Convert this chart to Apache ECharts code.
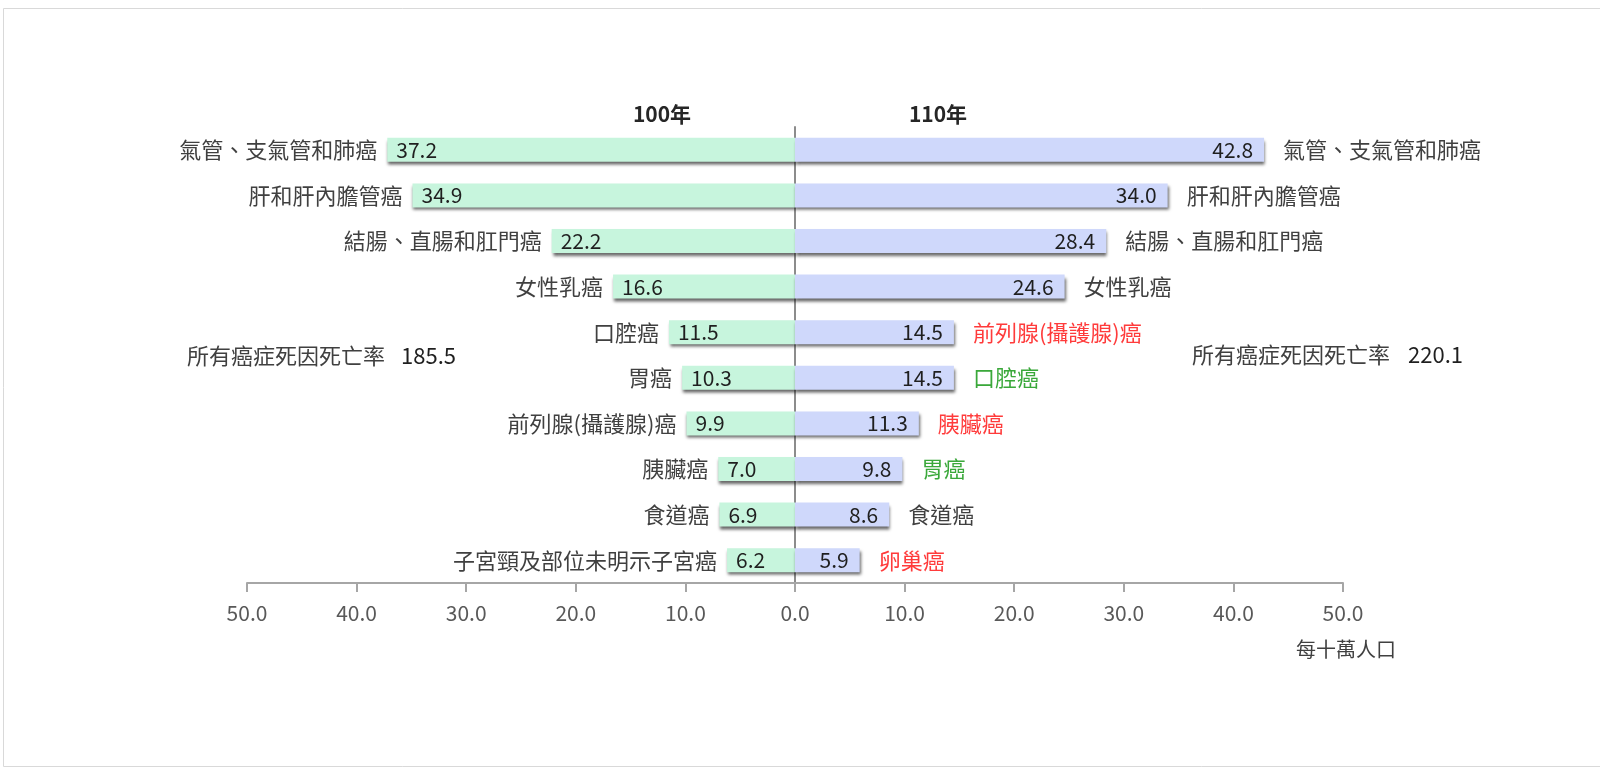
<!DOCTYPE html>
<html>
<head>
<meta charset="utf-8">
<script src="https://cdn.jsdelivr.net/npm/echarts@6/dist/echarts.min.js"></script>
<style>
html,body{margin:0;padding:0;background:#fff;}
#chart{width:1600px;height:770px;}
</style>
</head>
<body>
<div id="chart"></div>
<script>
// ---- data ----
var leftYear = '100年';
var rightYear = '110年';
var leftNames = ['氣管、支氣管和肺癌','肝和肝內膽管癌','結腸、直腸和肛門癌','女性乳癌','口腔癌','胃癌','前列腺(攝護腺)癌','胰臟癌','食道癌','子宮頸及部位未明示子宮癌'];
var leftValues = [37.2, 34.9, 22.2, 16.6, 11.5, 10.3, 9.9, 7.0, 6.9, 6.2];
var rightNames = ['氣管、支氣管和肺癌','肝和肝內膽管癌','結腸、直腸和肛門癌','女性乳癌','前列腺(攝護腺)癌','口腔癌','胰臟癌','胃癌','食道癌','卵巢癌'];
var rightValues = [42.8, 34.0, 28.4, 24.6, 14.5, 14.5, 11.3, 9.8, 8.6, 5.9];
var rightNameColors = ['#404040','#404040','#404040','#404040','#ff3b3b','#3aa83a','#ff3b3b','#3aa83a','#404040','#ff3b3b'];
var leftTotalLabel = '所有癌症死因死亡率';
var leftTotal = '185.5';
var rightTotalLabel = '所有癌症死因死亡率';
var rightTotal = '220.1';
var tickValues = [-50, -40, -30, -20, -10, 0, 10, 20, 30, 40, 50];
var unitLabel = '每十萬人口';
var ranks = ['1','2','3','4','5','6','7','8','9','10'];

var FONT = '"Noto Sans CJK TC", "Noto Sans", sans-serif';
var chart = echarts.init(document.getElementById('chart'), null, {renderer: 'canvas'});

var shadow = {shadowColor: 'rgba(0,0,0,0.6)', shadowBlur: 3, shadowOffsetX: 1, shadowOffsetY: 3};

var option = {
  backgroundColor: '#ffffff',
  animation: false,
  textStyle: {fontFamily: FONT},
  grid: {left: 247, right: 257, top: 127, height: 456, containLabel: false},
  xAxis: {
    type: 'value', min: -50, max: 50, interval: 10,
    axisLine: {show: true, lineStyle: {color: '#a6a6a6', width: 2}},
    axisTick: {show: true, length: 9, lineStyle: {color: '#a6a6a6', width: 2}},
    splitLine: {show: false},
    axisLabel: {
      margin: 20, fontSize: 21, color: '#595959', fontFamily: FONT,
      formatter: function (v) { return Math.abs(v).toFixed(1); }
    }
  },
  yAxis: {
    type: 'category', inverse: true, data: ranks,
    axisLine: {show: true, onZero: true, lineStyle: {color: '#8c8c8c', width: 2}},
    axisTick: {show: false},
    axisLabel: {show: false}
  },
  series: [
    {
      name: 'leftNames', type: 'bar', barWidth: 24, barGap: '-100%', silent: true,
      itemStyle: {color: 'rgba(0,0,0,0)'},
      data: leftValues.map(function (v) { return -v; }),
      label: {show: true, position: 'left', distance: 10, fontSize: 22, color: '#404040', fontFamily: FONT,
        formatter: function (p) { return leftNames[p.dataIndex]; }}
    },
    {
      name: 'rightNames', type: 'bar', barWidth: 24, barGap: '-100%', silent: true,
      itemStyle: {color: 'rgba(0,0,0,0)'},
      data: rightValues.map(function (v, i) {
        return {value: v, label: {color: rightNameColors[i]}};
      }),
      label: {show: true, position: 'right', distance: 19, fontSize: 22, fontFamily: FONT,
        formatter: function (p) { return rightNames[p.dataIndex]; }}
    },
    {
      name: leftYear, type: 'bar', barWidth: 24, barGap: '-100%',
      itemStyle: Object.assign({color: '#c7f5dd'}, shadow),
      data: leftValues.map(function (v) { return -v; }),
      label: {show: true, position: 'insideLeft', distance: 9, fontSize: 21, color: '#1f1f1f', fontFamily: FONT,
        formatter: function (p) { return leftValues[p.dataIndex].toFixed(1); }}
    },
    {
      name: rightYear, type: 'bar', barWidth: 24, barGap: '-100%',
      itemStyle: Object.assign({color: '#cfd8fb'}, shadow),
      data: rightValues.slice(),
      label: {show: true, position: 'insideRight', distance: 11, fontSize: 21, color: '#1f1f1f', fontFamily: FONT,
        formatter: function (p) { return rightValues[p.dataIndex].toFixed(1); }}
    }
  ],
  graphic: [
    {type: 'rect', left: 1, top: 6, z: -10, silent: true,
      shape: {width: 1597, height: 758}, style: {fill: 'none', stroke: '#d9d9d9', lineWidth: 1}},
    {type: 'text', x: 662, y: 114, style: {text: leftYear, font: 'bold 21px ' + FONT, fill: '#262626', textAlign: 'center', textVerticalAlign: 'middle'}},
    {type: 'text', x: 938, y: 114, style: {text: rightYear, font: 'bold 21px ' + FONT, fill: '#262626', textAlign: 'center', textVerticalAlign: 'middle'}},
    {type: 'text', x: 187, y: 356, style: {text: leftTotalLabel, font: '22px ' + FONT, fill: '#404040', textAlign: 'left', textVerticalAlign: 'middle'}},
    {type: 'text', x: 401, y: 356, style: {text: leftTotal, font: '22px ' + FONT, fill: '#1f1f1f', textAlign: 'left', textVerticalAlign: 'middle'}},
    {type: 'text', x: 1192, y: 355, style: {text: rightTotalLabel, font: '22px ' + FONT, fill: '#404040', textAlign: 'left', textVerticalAlign: 'middle'}},
    {type: 'text', x: 1408, y: 355, style: {text: rightTotal, font: '22px ' + FONT, fill: '#1f1f1f', textAlign: 'left', textVerticalAlign: 'middle'}},
    {type: 'text', x: 1346, y: 649, style: {text: unitLabel, font: '20px ' + FONT, fill: '#404040', textAlign: 'center', textVerticalAlign: 'middle'}}
  ]
};
chart.setOption(option);
</script>
</body>
</html>
